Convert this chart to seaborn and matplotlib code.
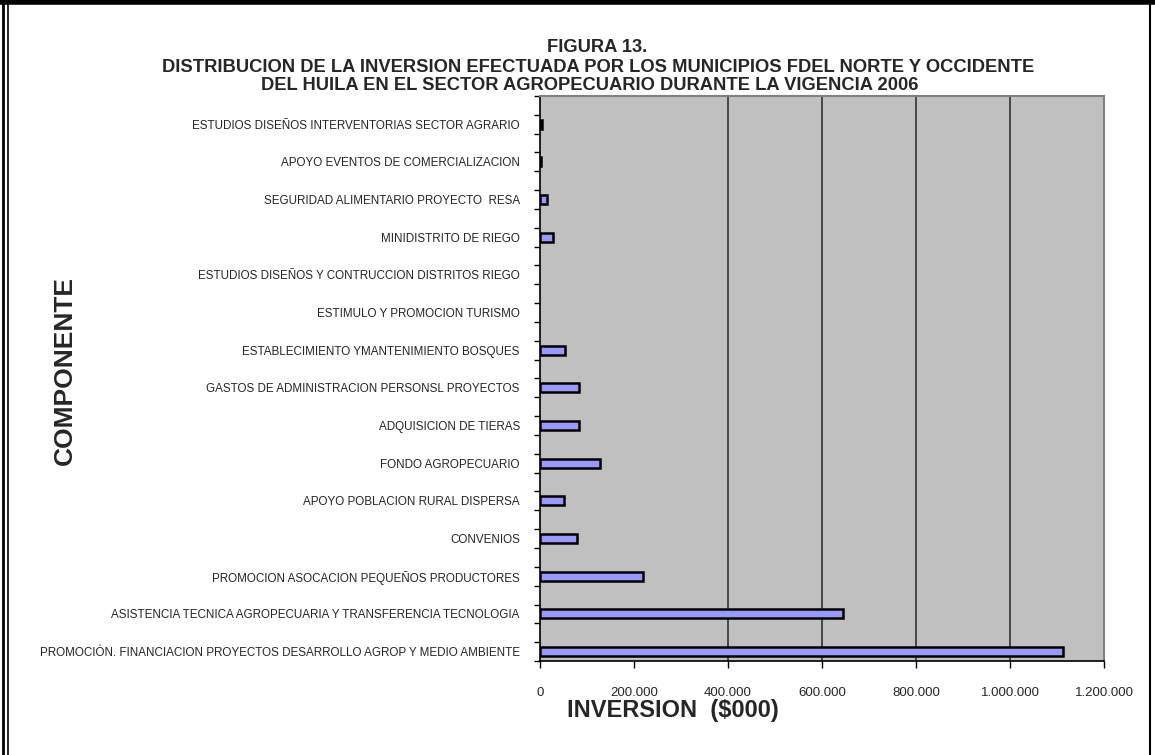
import matplotlib
import numpy as np
import pandas as pd
import seaborn as sns
import matplotlib.pyplot as plt
import matplotlib.ticker as ticker
from matplotlib.lines import Line2D

sns.set_style("white")
plt.rcParams["font.family"] = ["Liberation Sans", "DejaVu Sans"]

componentes = [
    "ESTUDIOS DISEÑOS INTERVENTORIAS SECTOR AGRARIO",
    "APOYO EVENTOS DE COMERCIALIZACION",
    "SEGURIDAD ALIMENTARIO PROYECTO  RESA",
    "MINIDISTRITO DE RIEGO",
    "ESTUDIOS DISEÑOS Y CONTRUCCION DISTRITOS RIEGO",
    "ESTIMULO Y PROMOCION TURISMO",
    "ESTABLECIMIENTO YMANTENIMIENTO BOSQUES",
    "GASTOS DE ADMINISTRACION PERSONSL PROYECTOS",
    "ADQUISICION DE TIERAS",
    "FONDO AGROPECUARIO",
    "APOYO POBLACION RURAL DISPERSA",
    "CONVENIOS",
    "PROMOCION ASOCACION PEQUEÑOS PRODUCTORES",
    "ASISTENCIA TECNICA AGROPECUARIA Y TRANSFERENCIA TECNOLOGIA",
    "PROMOCIÓN. FINANCIACION PROYECTOS DESARROLLO AGROP Y MEDIO AMBIENTE",
]
inversion = [3500, 3000, 14000, 28000, 0, 0, 54000, 84000, 84000, 127000,
             51000, 78000, 219000, 644000, 1112000]
x_ticks = [0, 200000, 400000, 600000, 800000, 1000000, 1200000]
x_labels = ["0", "200.000", "400.000", "600.000", "800.000", "1.000.000", "1.200.000"]

df = pd.DataFrame({"componente": componentes, "inversion": inversion})

fig = plt.figure(figsize=(11.55, 7.55), dpi=100)
ax = fig.add_axes([540 / 1155, 1 - 661 / 755, 564 / 1155, 565 / 755])

sns.barplot(
    data=df, x="inversion", y="componente", orient="h",
    color="#9999FF", edgecolor="black", linewidth=1.8, width=0.24,
    saturation=1, ax=ax,
)
# empty categories show no outline in the reference
for patch in ax.patches:
    if patch.get_width() == 0:
        patch.set_linewidth(0)

ax.set_facecolor("#C0C0C0")
ax.set_xlim(0, 1200000)
# the category band is shifted a quarter step up, as in the original sheet
ax.set_ylim(len(componentes) - 0.75, -0.75)

ax.xaxis.set_major_locator(ticker.FixedLocator(x_ticks))
ax.set_xticklabels(x_labels, fontsize=9.5)
ax.grid(axis="x", color="#333333", linewidth=1.2)
ax.set_axisbelow(True)
# reference has no gridline / tick at 200.000
for i in (0, 1, len(x_ticks) - 1):
    ax.xaxis.get_gridlines()[i].set_visible(False)
ax.xaxis.get_major_ticks()[1].tick1line.set_visible(False)
ax.tick_params(axis="x", direction="out", length=5, width=1, color="black", pad=14, bottom=True)

ax.yaxis.set_minor_locator(ticker.FixedLocator(np.arange(-0.75, len(componentes) - 0.7, 0.5)))
ax.tick_params(axis="y", which="major", length=0, pad=14.5, labelsize=8.4)
ax.tick_params(axis="y", which="minor", left=True, length=4, width=1, color="black", direction="out")

for side in ["top", "right"]:
    ax.spines[side].set_color("#808080")
    ax.spines[side].set_linewidth(1.5)
for side in ["left", "bottom"]:
    ax.spines[side].set_color("black")
    ax.spines[side].set_linewidth(1.2)

ax.set_xlabel("")
ax.set_ylabel("")
fig.text(65 / 1155, 1 - 370 / 755, "COMPONENTE", rotation=90, fontsize=19,
         fontweight="bold", ha="center", va="center")
fig.text(673 / 1155, 1 - 711 / 755, "INVERSION  ($000)", fontsize=17,
         fontweight="bold", ha="center", va="center")

title_font = dict(fontsize=13.2, fontweight="bold", ha="center", va="center")
fig.text(597 / 1155, 1 - 48 / 755, "FIGURA 13.", **title_font)
fig.text(598 / 1155, 1 - 67 / 755,
         "DISTRIBUCION DE LA INVERSION EFECTUADA POR LOS MUNICIPIOS FDEL NORTE Y OCCIDENTE",
         **title_font)
fig.text(590 / 1155, 1 - 86 / 755,
         "DEL HUILA EN EL SECTOR AGROPECUARIO DURANTE LA VIGENCIA 2006", **title_font)

# sheet frame: thick top, double left, single right
W, H = 1155, 755
frame = [
    ((0, W), (H - 2, H - 2), 4.0),
    ((3, 3), (0, H), 2.0),
    ((8, 8), (0, H), 1.2),
    ((1150, 1150), (0, H), 1.5),
]
for xs, ys, lw in frame:
    fig.add_artist(Line2D([x / W for x in xs], [y / H for y in ys],
                          transform=fig.transFigure, color="black", linewidth=lw))

fig.savefig("out.png", dpi=100)
